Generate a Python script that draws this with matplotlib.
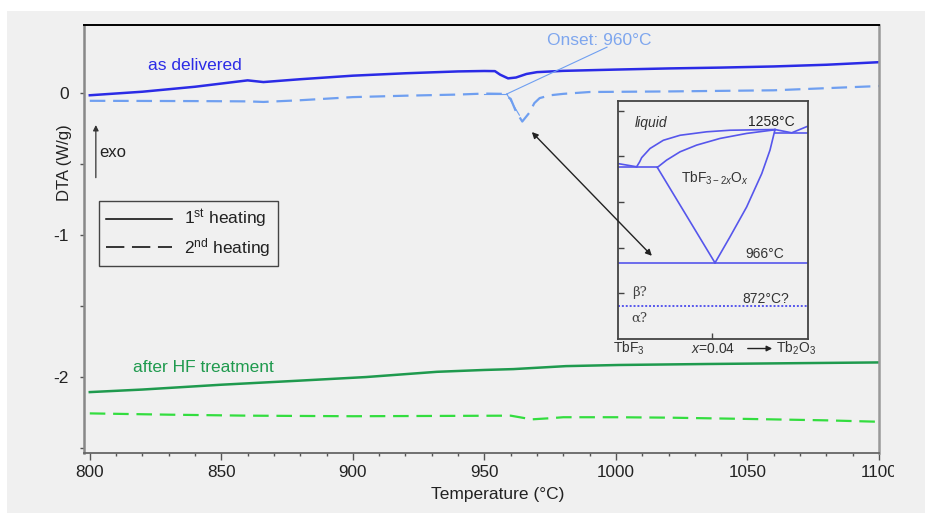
import matplotlib
matplotlib.use('Agg')
import matplotlib.pyplot as plt
from matplotlib.lines import Line2D
from matplotlib.patches import Rectangle, FancyArrowPatch
from matplotlib.transforms import Bbox

plt.rcParams['font.family'] = ['Liberation Sans', 'DejaVu Sans']
plt.rcParams['mathtext.fontset'] = 'custom'
plt.rcParams['mathtext.rm'] = 'Liberation Sans'
plt.rcParams['mathtext.it'] = 'Liberation Sans:italic'

# DTA curves
temp_del_1 = [800, 820, 840, 860, 866, 880, 900, 920, 940, 950, 954, 956, 959, 962, 966, 970,
              980, 1000, 1020, 1040, 1060, 1080, 1100]
dta_del_1 = [-0.015, 0.01, 0.045, 0.09, 0.078, 0.098, 0.123, 0.14, 0.153, 0.156, 0.155, 0.13,
             0.104, 0.11, 0.135, 0.148, 0.157, 0.166, 0.174, 0.18, 0.188, 0.2, 0.218]

temp_del_2 = [800, 820, 840, 860, 866, 880, 900, 920, 940, 950, 957, 960, 962, 964.4, 967, 969,
              971, 975, 980, 990, 1020, 1060, 1080, 1100]
dta_del_2 = [-0.054, -0.055, -0.056, -0.058, -0.062, -0.05, -0.028, -0.018, -0.01, -0.003,
             -0.005, -0.04, -0.13, -0.2, -0.14, -0.07, -0.035, -0.015, -0.005, 0.008, 0.012,
             0.02, 0.035, 0.05]

temp_hf_1 = [800, 820, 850, 880, 905, 932, 950, 961, 981, 1001, 1035, 1070, 1100]
dta_hf_1 = [-2.106, -2.088, -2.054, -2.025, -2.0, -1.963, -1.95, -1.944, -1.923, -1.915,
            -1.908, -1.902, -1.897]

temp_hf_2 = [800, 830, 860, 900, 930, 960, 964, 968, 975, 980, 1000, 1020, 1050, 1080, 1100]
dta_hf_2 = [-2.256, -2.265, -2.272, -2.276, -2.274, -2.272, -2.285, -2.298, -2.29, -2.283,
            -2.283, -2.286, -2.295, -2.305, -2.315]

# phase diagram TbF3 - Tb2O3 (inset)
liq_x = [0.0079, 0.0092, 0.01003, 0.01356, 0.0192, 0.0263, 0.0376, 0.0475, 0.0665]
liq_t = [1177, 1188, 1197, 1217, 1235, 1246, 1253.6, 1257, 1258.6]
liq_left_x = [0.0, 0.0079]
liq_left_t = [1184, 1177]
sol_x = [0.01666, 0.0206, 0.0263, 0.0333, 0.0432, 0.0545, 0.0665]
sol_t = [1175.6, 1191.6, 1209.8, 1224.4, 1239, 1250, 1258]
per_x = [0.0, 0.01666]
per_t = [1175.6, 1175.6]
solv_left_x = [0.01666, 0.0411]
solv_left_t = [1175.6, 966.7]
solv_right_x = [0.0411, 0.04745, 0.0545, 0.0609, 0.0644, 0.0665]
solv_right_t = [966.7, 1023.6, 1089, 1162, 1213.5, 1258]
right_x = [0.0665, 0.0736, 0.0805]
right_t = [1258.6, 1251.4, 1266]
eut_right_x = [0.0665, 0.0805]
eut_right_t = [1251.4, 1251.4]
eutectoid_t = 966
beta_alpha_t = 872

bg = '#f0f0f0'
blue = '#2b2be6'
lightblue = '#6f9ff0'
green = '#1f9a4e'
lightgreen = '#33dd3f'
phase_blue = '#5656ec'

fig = plt.figure(figsize=(9.25, 5.13), dpi=100)
fig.patch.set_facecolor('white')
fig.add_artist(Rectangle((7 / 925, 0), 1, 502 / 513, transform=fig.transFigure,
                         facecolor=bg, edgecolor='none', zorder=-10))

ax = fig.add_axes([84 / 925, 1 - 453 / 513, 795 / 925, 428 / 513])
ax.set_facecolor(bg)

ax.plot(temp_del_1, dta_del_1, color=blue, lw=1.8)
ax.plot(temp_del_2, dta_del_2, color=lightblue, lw=1.6, dashes=(7, 3.5))
ax.plot(temp_hf_1, dta_hf_1, color=green, lw=1.8)
ax.plot(temp_hf_2, dta_hf_2, color=lightgreen, lw=1.6, dashes=(7, 3.5))

# onset construction
ax.plot([950, 958.5], [-0.004, -0.004], color=lightblue, lw=0.8)
ax.plot([958.5, 963.3], [-0.006, -0.155], color=lightblue, lw=0.8)
ax.plot([958.5, 996.6], [-0.006, 0.324], color=lightblue, lw=0.8)
ax.text(993.5, 0.373, 'Onset: 960°C', color='#7ea6ee', fontsize=12.5, ha='center', va='center')

ax.text(822, 0.197, 'as delivered', color=blue, fontsize=12.5, ha='left', va='center')
ax.text(816.3, -1.93, 'after HF treatment', color=green, fontsize=12.5, ha='left', va='center')

ax.annotate('', xy=(802.3, -0.205), xytext=(802.3, -0.615),
            arrowprops=dict(arrowstyle='-|>', color='#333333', lw=0.9, mutation_scale=8))
ax.text(803.6, -0.42, 'exo', fontsize=12, color='#222222', ha='left', va='center')

ax.set_xlim(797.8, 1100)
ax.set_ylim(-2.535, 0.48)
ax.set_xticks([800, 850, 900, 950, 1000, 1050, 1100])
ax.set_xticks(range(800, 1101, 10), minor=True)
ax.set_yticks([0.0, -0.5, -1.0, -1.5, -2.0, -2.5])
ax.set_yticklabels(['0', '', '-1', '', '-2', ''])
ax.tick_params(axis='x', which='major', direction='out', length=5, width=1, color='#555555',
               labelsize=12.3, labelcolor='#222222', pad=3.5)
ax.tick_params(axis='x', which='minor', direction='out', length=2.5, width=1, color='#555555')
ax.tick_params(axis='y', direction='out', length=3, width=1, color='#555555',
               labelsize=12.5, labelcolor='#222222', pad=8)
ax.spines['top'].set_color('black')
ax.spines['top'].set_linewidth(1.4)
ax.spines['left'].set_color('#888888')
ax.spines['left'].set_linewidth(1.8)
ax.spines['right'].set_color('#999999')
ax.spines['right'].set_linewidth(1.8)
ax.spines['bottom'].set_color('#666666')
ax.spines['bottom'].set_linewidth(1.3)

# the original picture is cut just right of the last tick label
for lab in ax.xaxis.get_majorticklabels():
    lab.set_clip_box(Bbox.from_extents(0, 0, 894, 513))
    lab.set_clip_on(True)

fig.text(64.5 / 925, 1 - 163 / 513, 'DTA (W/g)', rotation=90, fontsize=12, color='#222222',
         ha='center', va='center')
fig.text(498 / 925, 1 - 495 / 513, 'Temperature (°C)', fontsize=12.5, color='#222222',
         ha='center', va='center')

handles = [Line2D([], [], color='black', lw=1.1),
           Line2D([], [], color='black', lw=1.1, dashes=(12, 5))]
leg = ax.legend(handles, [r'1$^{\mathrm{st}}$ heating', r'2$^{\mathrm{nd}}$ heating'],
                loc='upper left', bbox_to_anchor=(0.0189, 0.589), borderaxespad=0,
                fontsize=12.5, handlelength=3.8, handletextpad=0.7, labelspacing=0.3,
                borderpad=0.4, fancybox=False, framealpha=1, facecolor=bg,
                edgecolor='#444444')
leg.get_frame().set_linewidth(1.0)
for t in leg.get_texts():
    t.set_color('#222222')

# inset: phase diagram
ax_in = fig.add_axes([618 / 925, 1 - 339 / 513, 190 / 925, 238 / 513])
ax_in.set_facecolor(bg)
for xs, ts in [(liq_x, liq_t), (liq_left_x, liq_left_t), (sol_x, sol_t), (per_x, per_t),
               (solv_left_x, solv_left_t), (solv_right_x, solv_right_t), (right_x, right_t),
               (eut_right_x, eut_right_t)]:
    ax_in.plot(xs, ts, color=phase_blue, lw=1.2)
ax_in.axhline(eutectoid_t, color=phase_blue, lw=1.2)
ax_in.axhline(beta_alpha_t, color=phase_blue, lw=1.4, ls=(0, (1, 1)))
ax_in.set_xlim(0, 0.0805)
ax_in.set_ylim(800, 1321)
ax_in.set_yticks([900, 1000, 1100, 1200, 1300])
ax_in.set_xticks([0.04])
ax_in.tick_params(direction='in', length=4, width=1, color='#444444',
                  labelleft=False, labelbottom=False)
for s in ax_in.spines.values():
    s.set_color('#444444')
    s.set_linewidth(1.3)

txt = dict(fontsize=10, color='#333333', ha='center', va='center')
ax_in.text(0.014, 1272, 'liquid', style='italic', **txt)
ax_in.text(0.075, 1274, '1258°C', fontsize=10, color='#222222', ha='right', va='center')
ax_in.text(0.0409, 1151, r'TbF$_{\mathregular{3-2}\mathit{x}}$O$_{\mathit{x}}$', **txt)
ax_in.text(0.0623, 985, '966°C', **txt)
ax_in.text(0.0625, 888, '872°C?', **txt)
ax_in.text(0.0093, 901, 'β?', family='DejaVu Serif', fontsize=9.5, color='#444444',
           ha='center', va='center')
ax_in.text(0.0089, 845, 'α?', family='DejaVu Serif', fontsize=9.5, color='#444444',
           ha='center', va='center')

btm = ax_in.get_xaxis_transform()
ax_in.text(0.0047, -0.04, r'TbF$_3$', transform=btm, clip_on=False, **txt)
ax_in.text(0.0402, -0.04, r'$x$=0.04', transform=btm, clip_on=False, **txt)
ax_in.text(0.0756, -0.04, r'Tb$_2$O$_3$', transform=btm, clip_on=False, **txt)
ax_in.annotate('', xy=(0.0665, -0.04), xytext=(0.0538, -0.04), xycoords=btm, textcoords=btm,
               annotation_clip=False,
               arrowprops=dict(arrowstyle='-|>', color='#222222', lw=1, mutation_scale=8))

# arrow linking the DTA peak to the 966 C line, drawn above both axes
link = FancyArrowPatch((967.3, -0.26), (1014.4, -1.16), transform=ax.transData,
                       arrowstyle='<|-|>', mutation_scale=9, color='#222222', lw=1)
fig.add_artist(link)

fig.savefig('out.png', dpi=100, facecolor=fig.get_facecolor())
